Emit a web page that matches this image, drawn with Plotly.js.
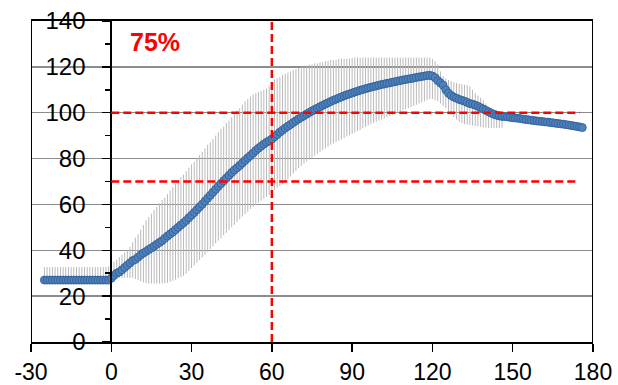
<!DOCTYPE html>
<html>
<head>
<meta charset="utf-8">
<script src="https://cdn.plot.ly/plotly-3.0.1.min.js"></script>
<style>html,body{margin:0;padding:0;background:#fff;}#chart{width:618px;height:385px;}</style>
</head>
<body>
<div id="chart"></div>
<script>
// time (min)
var timeMin = [-25,-24,-23,-22,-21,-20,-19,-18,-17,-16,-15,-14,-13,-12,-11,-10,-9,-8,-7,-6,-5,-4,-3,-2,-1,
0,1,2,3,4,5,6,7,8,9,10,11,12,13,14,15,16,17,18,19,20,21,22,23,24,25,26,27,28,29,30,31,32,33,34,35,36,37,38,39,
40,41,42,43,44,45,46,47,48,49,50,51,52,53,54,55,56,57,58,59,60,61,62,63,64,65,66,67,68,69,70,71,72,73,74,75,76,77,78,79,
80,81,82,83,84,85,86,87,88,89,90,91,92,93,94,95,96,97,98,99,100,101,102,103,104,105,106,107,108,109,110,111,112,113,114,115,116,117,118,119,
120,121,122,123,124,125,126,127,128,129,130,131,132,133,134,135,136,137,138,139,140,141,142,143,144,145,146,147,148,149,150,151,152,153,154,155,156,157,158,159,
160,161,162,163,164,165,166,167,168,169,170,171,172,173,174,175,176];

// mean value
var meanVal = [27,27,27,27,27,27,27,27,27,27,
27,27,27,27,27,27,27,27,27,27,
27,27,27,27,27,
27.8,29,30,30.5,31.5,32.5,33.5,34.5,35.5,36,
37,38,38.8,39.5,40.3,41,41.8,42.6,43.4,44.2,
45.2,46.2,47.1,48,49,50,51,52,53,54.2,
55.3,56.5,57.7,58.9,60.1,61.4,62.7,64,65.3,66.6,
67.9,69.1,70.3,71.5,72.7,73.9,75,76,77,78.1,
79.2,80.3,81.3,82.4,83.5,84.5,85.4,86.3,87.1,87.8,
88.5,89.5,90.5,91.5,92.4,93.3,94.1,94.9,95.7,96.5,
97.3,98,98.7,99.4,100.1,100.8,101.4,102,102.6,103.2,
103.8,104.3,104.9,105.4,105.9,106.4,106.9,107.4,107.8,108.2,
108.6,109,109.4,109.8,110.1,110.5,110.8,111.1,111.4,111.7,
112,112.3,112.5,112.8,113,113.3,113.5,113.8,114,114.3,
114.5,114.7,114.9,115.1,115.4,115.6,115.8,116,116.2,116.3,
116,115.3,114,113,112,110,108.5,107.5,106.8,106.3,
105.8,105.4,105,104.5,104,103.7,103.3,102.8,102.2,101.6,
101,100.4,99.8,99.3,98.9,98.6,98.4,98.3,98.2,98,
97.8,97.7,97.6,97.4,97.2,97,96.9,96.7,96.6,96.4,
96.3,96.2,96,95.9,95.7,95.6,95.4,95.3,95.1,95,
94.8,94.6,94.4,94.2,94,93.8,93.5];

// upper end of the spread (x = -25 .. 146)
var upperVal = [32.7,32.7,32.7,32.7,32.7,32.7,32.7,32.7,32.7,32.7,
32.7,32.7,32.7,32.7,32.7,32.7,32.7,32.7,32.7,32.7,
32.7,32.7,32.7,32.7,33,
34,35,36,37,38,39,40,41.5,43.5,45.5,
47,49,51,53,54.5,56,57.5,59,60.5,62,
63,64.5,66,67.5,69,70.5,72,73,74.5,76,
77.5,78.5,80,81.5,83,84.5,86,87,88.5,90,
91.5,93,94,95.5,96.5,98,99.5,101,102,103.5,
105,106,107,108,108.5,109,109.5,110,110.5,111.5,
113.5,114.5,115,115.5,116.5,117,117.5,118,118.5,119,
119.5,120,120,120.5,121,121,121.5,121.5,122,122,
122.5,122.5,123,123,123,123.5,123.5,123.5,123.5,123.5,
124,124,124,124,124,124,124,124,124,124,
124,124,124,124,124,124,124,124,124,124,
124,124,124,124,124,124,124,124,124,124,
123.5,122.5,121,118,116,115,114.3,113.8,113.3,113,
112.7,112.5,112.2,112,111.5,110,108.5,107.5,106.5,105.4,
104,102.5,101.5,100.5,99.5,99,98.7];

// lower end of the spread (x = -25 .. 146)
var lowerVal = [25.5,25.5,25.5,25.5,25.5,25.5,25.5,25.5,25.5,25.5,
25.5,25.5,25.5,25.5,25.5,25.5,25.5,25.5,25.5,25.5,
25.5,25.5,25.5,25.5,25.5,
26.5,27.5,28,28,28,28,28,28,28,27.5,
27,26.5,26,25.7,25.5,25.5,25.5,25.5,25.5,25.5,
25.6,25.8,26.2,26.7,27.2,27.8,28.3,28.8,29.8,31,
32.2,33.4,34.6,35.7,36.9,38.1,39.3,40.6,41.8,43,
44.2,45.3,46.5,47.6,48.8,50,51.1,52.3,53.5,54.7,
55.7,56.8,58,58.9,59.8,60.7,61.6,62.5,63.3,64.2,
65.5,66.5,67.3,68,69,70,71,72.2,73.4,74.6,
75.8,76.8,77.8,78.8,79.6,80.4,81.2,82,82.8,83.6,
84.4,85.2,86,86.6,87.2,87.8,88.4,89,89.6,90.2,
90.8,91.4,92,92.6,93.2,93.8,94.4,95,95.5,96,
96.5,97,97.5,98,98.5,99,99.5,100,100.5,101,
101.5,102,102.5,103,103.5,104,104.5,105,105.5,106,
106,105.5,105,104,103,102,100.5,99,98,97,
96,95.5,95,94.8,94.6,94.4,94.2,94,93.8,93.6,
93.5,93.4,93.3,93.3,93.3,93.3,93.5];

var xTicks = [-30,0,30,60,90,120,150,180];
var yTicks = [0,20,40,60,80,100,120,140];
var refX = 60;
var refY = [100,70];
var refEnd = [175,174.5];
var labelText = "75%";

var errPlus = [], errMinus = [];
for (var i = 0; i < timeMin.length; i++) {
  if (i < upperVal.length) {
    errPlus.push(Math.max(0, upperVal[i] - meanVal[i]));
    errMinus.push(Math.max(0, meanVal[i] - lowerVal[i]));
  } else { errPlus.push(0); errMinus.push(0); }
}

var FONT = 'Liberation Sans, Arial, sans-serif';

var trace = {
  type: 'scatter', mode: 'markers', x: timeMin, y: meanVal,
  marker: {size: 8, color: '#4F81BD', line: {color: '#2F5D93', width: 0.8}},
  error_y: {type: 'data', symmetric: false, array: errPlus, arrayminus: errMinus,
            color: '#b9b9b9', thickness: 1, width: 0},
  hoverinfo: 'skip', showlegend: false
};

var red = {color: '#FF0000', width: 2.5, dash: '8px,4px'};
var shapes = [
  {type: 'line', xref: 'x', yref: 'y', x0: -30, x1: -30, y0: 0, y1: 140, line: {color: '#000', width: 2}, layer: 'above'},
  {type: 'line', xref: 'x', yref: 'y', x0: 180, x1: 180, y0: 0, y1: 140, line: {color: '#000', width: 2}, layer: 'above'},
  {type: 'line', xref: 'x', yref: 'y', x0: refX, x1: refX, y0: 0, y1: 140, line: red, layer: 'above'}
];
for (var k = 0; k < refY.length; k++) {
  shapes.push({type: 'line', xref: 'x', yref: 'y', x0: 0, x1: refEnd[k], y0: refY[k], y1: refY[k], line: red, layer: 'above'});
}

var layout = {
  width: 618, height: 385,
  margin: {l: 31, r: 25, t: 21, b: 43, pad: 0},
  paper_bgcolor: '#fff', plot_bgcolor: '#fff',
  font: {family: FONT, size: 23, color: '#000'},
  xaxis: {
    range: [-30, 180], tickvals: xTicks, ticktext: xTicks.map(String),
    showgrid: false, zeroline: false, showline: true, linecolor: '#000', linewidth: 2,
    mirror: true, ticks: 'outside', ticklen: 8, tickwidth: 1.5, tickcolor: '#000',
    tickfont: {family: FONT, size: 23, color: '#000'}, ticklabelstandoff: 0
  },
  yaxis: {
    range: [0, 140], tickvals: yTicks, ticktext: yTicks.map(String),
    anchor: 'free', position: 30 / 210,
    showgrid: true, gridcolor: '#8c8c8c', gridwidth: 1.5, zeroline: false,
    showline: true, linecolor: '#000', linewidth: 2,
    ticks: 'outside', ticklen: 8, tickwidth: 1.5, tickcolor: '#000',
    minor: {dtick: 10, tick0: 0, ticks: 'outside', ticklen: 5, tickwidth: 1.5, tickcolor: '#000', showgrid: false},
    tickfont: {family: FONT, size: 24, color: '#000'}, ticklabelstandoff: 12
  },
  shapes: shapes,
  annotations: [{
    xref: 'x', yref: 'y', x: 6.25, y: 130.7, xanchor: 'left', yanchor: 'middle',
    text: labelText, showarrow: false,
    font: {family: FONT, size: 25, color: '#FF0000', weight: 'bold'}
  }]
};

Plotly.newPlot('chart', [trace], layout, {displayModeBar: false, staticPlot: true});
</script>
</body>
</html>
